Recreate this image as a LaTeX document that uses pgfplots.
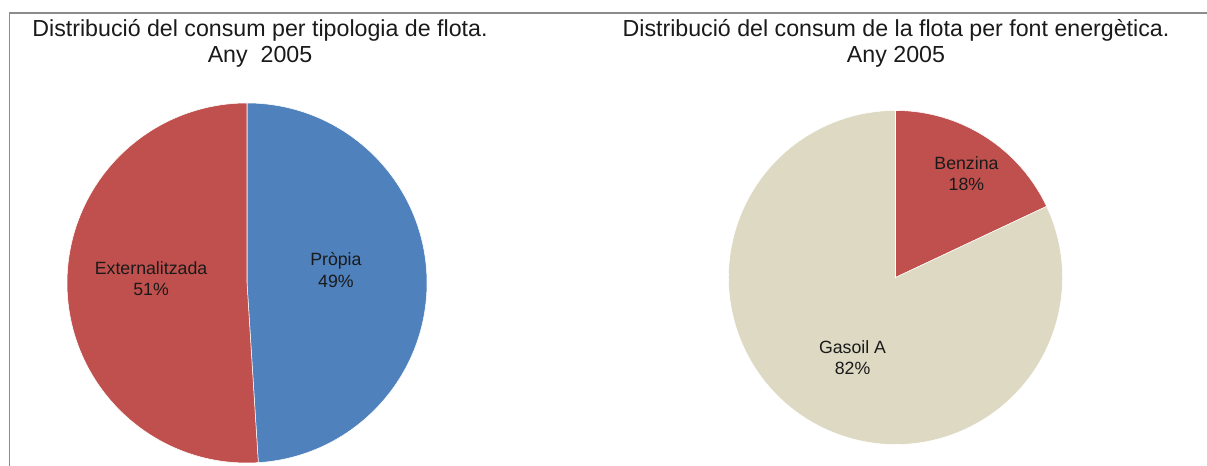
\documentclass[border=0pt]{standalone}
\usepackage{pgfplots}
\pgfplotsset{compat=1.18}
\usepackage{fontspec}
\setmainfont{Liberation Sans}
\definecolor{pblue}{HTML}{4F81BD}
\definecolor{pred}{HTML}{C0504D}
\definecolor{pbeige}{HTML}{DDD9C3}
\definecolor{txt}{HTML}{1A1A1A}
\definecolor{frame}{HTML}{8C8C8C}
\begin{document}
\begin{tikzpicture}[x=0.75pt,y=0.75pt]
\useasboundingbox (0,0) rectangle (1207,466);
\draw[frame,line width=0.9pt] (9.5,0) -- (9.5,453) -- (1207,453);
% left pie: Propia 49, Externalitzada 51
\begin{axis}[hide axis, scale only axis, width=270pt, height=270pt,
  xmin=-1, xmax=1, ymin=-1, ymax=1, clip=false,
  at={(185.25pt,137.25pt)}, anchor=center]
  \fill[pblue, draw=white, line width=0.4pt] (axis cs:0,0) -- (axis cs:0,1) arc[start angle=90, end angle={90-49*3.6}, radius=135pt] -- cycle;
  \fill[pred, draw=white, line width=0.4pt] (axis cs:0,0) -- ({axis cs:{cos(90-49*3.6)},{sin(90-49*3.6)}}) arc[start angle={90-49*3.6}, end angle={90-100*3.6}, radius=135pt] -- cycle;
  \node[txt, align=center, font=\fontsize{13.3}{15.8}\selectfont] at (axis cs:0.494,0.072) {Pròpia\\49\%};
  \node[txt, align=center, font=\fontsize{13.3}{15.8}\selectfont] at (axis cs:-0.533,0.022) {Externalitzada\\51\%};
\end{axis}
% right pie: Benzina 18, Gasoil A 82
\begin{axis}[hide axis, scale only axis, width=250.5pt, height=250.5pt,
  xmin=-1, xmax=1, ymin=-1, ymax=1, clip=false,
  at={(671.625pt,141.375pt)}, anchor=center]
  \fill[pred, draw=white, line width=0.4pt] (axis cs:0,0) -- (axis cs:0,1) arc[start angle=90, end angle={90-18*3.6}, radius=125.25pt] -- cycle;
  \fill[pbeige, draw=white, line width=0.4pt] (axis cs:0,0) -- ({axis cs:{cos(90-18*3.6)},{sin(90-18*3.6)}}) arc[start angle={90-18*3.6}, end angle={90-100*3.6}, radius=125.25pt] -- cycle;
  \node[txt, align=center, font=\fontsize{13.3}{15.8}\selectfont] at (axis cs:0.425,0.623) {Benzina\\18\%};
  \node[txt, align=center, font=\fontsize{13.3}{15.8}\selectfont] at (axis cs:-0.257,-0.479) {Gasoil A\\82\%};
\end{axis}
\node[txt, align=center, font=\fontsize{17.4}{19.5}\selectfont] at (260,423) {Distribució del consum per tipologia de flota.\\Any\ \ 2005};
\node[txt, align=center, font=\fontsize{17.4}{19.5}\selectfont] at (896,423) {Distribució del consum de la flota per font energètica.\\Any 2005};
\end{tikzpicture}
\end{document}
